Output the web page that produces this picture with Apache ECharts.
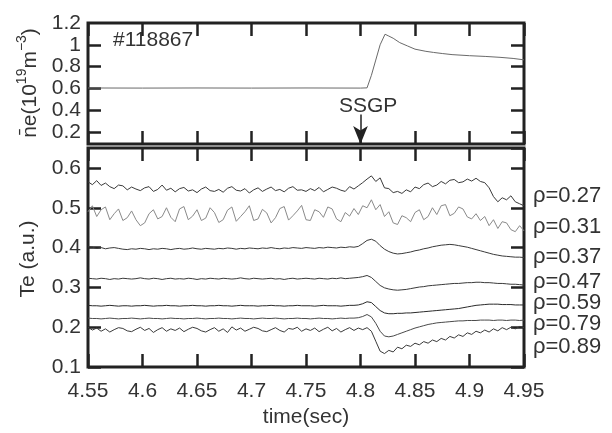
<!DOCTYPE html>
<html><head><meta charset="utf-8">
<script src="https://cdn.jsdelivr.net/npm/echarts@6/dist/echarts.min.js"></script>
<style>html,body{margin:0;padding:0;background:#fff}#c{width:612px;height:433px}</style>
</head><body><div id="c"></div>
<script>
// ---- data ----
const neTime = [4.55,4.6,4.65,4.7,4.75,4.8,4.806,4.81,4.814,4.818,4.8225,4.826,4.83,4.836,4.843,4.85,4.86,4.867,4.875,4.884,4.9,4.915,4.928,4.94,4.95];
const neValues = [0.604,0.603,0.604,0.603,0.604,0.603,0.605,0.72,0.86,1.0,1.097,1.08,1.06,1.02,0.99,0.96,0.94,0.93,0.92,0.91,0.9,0.893,0.885,0.875,0.862];

// Te sampled every 4 ms from 4.55 s to 4.95 s (101 samples)
const teStart = 4.55, teStep = 0.004;
const te027 = [0.565,0.558,0.568,0.556,0.562,0.553,0.548,0.557,0.555,0.545,0.552,
 0.547,0.543,0.55,0.553,0.541,0.546,0.557,0.544,0.549,0.54,
 0.548,0.551,0.542,0.545,0.538,0.547,0.552,0.543,0.541,0.546,
 0.539,0.549,0.553,0.544,0.542,0.548,0.537,0.545,0.55,0.541,
 0.547,0.552,0.543,0.546,0.54,0.549,0.553,0.544,0.545,0.541,
 0.548,0.543,0.551,0.54,0.546,0.552,0.549,0.544,0.541,0.553,
 0.547,0.555,0.563,0.572,0.58,0.566,0.575,0.55,0.548,0.538,
 0.541,0.536,0.545,0.54,0.552,0.548,0.558,0.562,0.553,0.557,
 0.566,0.56,0.569,0.571,0.563,0.565,0.572,0.567,0.574,0.566,
 0.563,0.55,0.528,0.515,0.525,0.52,0.53,0.515,0.51,0.505];
const te031 = [0.49,0.505,0.478,0.495,0.502,0.47,0.485,0.497,0.468,0.475,0.492,
 0.47,0.455,0.462,0.485,0.495,0.472,0.478,0.5,0.476,0.465,
 0.497,0.503,0.47,0.479,0.495,0.468,0.474,0.5,0.488,0.463,
 0.47,0.494,0.502,0.466,0.478,0.49,0.505,0.468,0.472,0.496,
 0.487,0.462,0.475,0.498,0.503,0.469,0.48,0.492,0.506,0.47,
 0.468,0.495,0.49,0.476,0.502,0.497,0.472,0.465,0.488,0.479,
 0.498,0.483,0.505,0.5,0.52,0.495,0.508,0.478,0.49,0.462,
 0.458,0.48,0.475,0.465,0.488,0.495,0.47,0.478,0.5,0.483,
 0.505,0.508,0.48,0.486,0.502,0.497,0.477,0.472,0.485,0.468,
 0.478,0.455,0.47,0.448,0.465,0.462,0.445,0.44,0.455,0.442];
const te037 = [0.402,0.401,0.398,0.4,0.397,0.399,0.4,0.398,0.396,0.395,0.397,
 0.396,0.398,0.397,0.395,0.397,0.396,0.398,0.397,0.395,0.397,
 0.398,0.396,0.397,0.399,0.397,0.396,0.398,0.397,0.396,0.398,
 0.397,0.399,0.398,0.396,0.398,0.397,0.399,0.398,0.397,0.399,
 0.398,0.4,0.398,0.397,0.399,0.398,0.4,0.399,0.398,0.4,
 0.399,0.398,0.4,0.399,0.401,0.4,0.399,0.401,0.4,0.402,
 0.401,0.403,0.41,0.418,0.421,0.416,0.405,0.396,0.39,0.386,
 0.384,0.385,0.387,0.389,0.392,0.394,0.397,0.399,0.402,0.404,
 0.406,0.407,0.408,0.407,0.405,0.403,0.401,0.398,0.395,0.392,
 0.389,0.386,0.383,0.381,0.379,0.378,0.377,0.376,0.376,0.375];
const te047 = [0.323,0.322,0.321,0.323,0.322,0.32,0.322,0.321,0.323,0.322,0.321,
 0.322,0.324,0.322,0.321,0.323,0.322,0.32,0.322,0.323,0.321,
 0.322,0.321,0.323,0.322,0.32,0.322,0.321,0.323,0.322,0.321,
 0.323,0.322,0.321,0.322,0.324,0.322,0.321,0.323,0.322,0.321,
 0.322,0.323,0.321,0.322,0.32,0.322,0.323,0.321,0.322,0.323,
 0.322,0.321,0.323,0.322,0.321,0.323,0.322,0.324,0.322,0.323,
 0.324,0.325,0.327,0.33,0.325,0.315,0.305,0.299,0.296,0.294,
 0.293,0.294,0.295,0.297,0.299,0.301,0.302,0.304,0.305,0.306,
 0.307,0.308,0.309,0.31,0.31,0.311,0.312,0.312,0.313,0.313,
 0.312,0.312,0.311,0.31,0.31,0.309,0.308,0.308,0.307,0.306];
const te059 = [0.255,0.254,0.254,0.253,0.254,0.255,0.254,0.253,0.254,0.254,0.253,
 0.254,0.254,0.255,0.254,0.253,0.254,0.254,0.255,0.254,0.254,
 0.253,0.254,0.254,0.255,0.254,0.254,0.253,0.254,0.254,0.255,
 0.254,0.254,0.253,0.254,0.255,0.254,0.254,0.254,0.253,0.254,
 0.254,0.255,0.254,0.254,0.253,0.254,0.254,0.255,0.254,0.254,
 0.254,0.253,0.254,0.255,0.254,0.254,0.254,0.253,0.254,0.255,
 0.255,0.256,0.259,0.264,0.262,0.252,0.242,0.236,0.234,0.234,
 0.235,0.235,0.236,0.236,0.237,0.238,0.239,0.24,0.241,0.242,
 0.243,0.244,0.245,0.246,0.247,0.249,0.251,0.253,0.255,0.256,
 0.257,0.258,0.258,0.258,0.257,0.257,0.257,0.256,0.256,0.256];
const te079 = [0.223,0.222,0.222,0.221,0.222,0.223,0.222,0.221,0.222,0.222,0.223,
 0.222,0.221,0.222,0.223,0.222,0.222,0.221,0.222,0.223,0.222,
 0.222,0.221,0.222,0.222,0.223,0.222,0.221,0.222,0.222,0.223,
 0.222,0.222,0.221,0.222,0.223,0.222,0.222,0.221,0.222,0.223,
 0.222,0.222,0.223,0.222,0.221,0.222,0.222,0.223,0.222,0.222,
 0.221,0.222,0.223,0.222,0.222,0.221,0.222,0.223,0.222,0.223,
 0.223,0.224,0.227,0.232,0.226,0.21,0.19,0.178,0.176,0.178,
 0.182,0.186,0.19,0.194,0.198,0.201,0.204,0.207,0.209,0.211,
 0.212,0.213,0.214,0.215,0.216,0.216,0.217,0.217,0.217,0.218,
 0.218,0.218,0.217,0.218,0.218,0.217,0.218,0.218,0.217,0.218];
const te089 = [0.2,0.193,0.198,0.19,0.196,0.188,0.194,0.199,0.197,0.191,0.189,
 0.195,0.2,0.192,0.197,0.187,0.194,0.199,0.19,0.196,0.192,
 0.198,0.189,0.195,0.2,0.197,0.191,0.188,0.194,0.199,0.19,
 0.196,0.187,0.201,0.193,0.198,0.19,0.195,0.2,0.197,0.191,
 0.189,0.194,0.199,0.192,0.188,0.197,0.195,0.2,0.19,0.196,
 0.192,0.198,0.189,0.195,0.2,0.191,0.197,0.188,0.194,0.199,
 0.192,0.198,0.194,0.199,0.19,0.165,0.14,0.134,0.142,0.138,
 0.15,0.146,0.155,0.152,0.16,0.156,0.164,0.16,0.168,0.164,
 0.172,0.168,0.177,0.173,0.181,0.177,0.186,0.182,0.19,0.186,
 0.193,0.188,0.196,0.191,0.199,0.194,0.2,0.196,0.202,0.199];

const rhoLabels = ['ρ=0.27','ρ=0.31','ρ=0.37','ρ=0.47','ρ=0.59','ρ=0.79','ρ=0.89'];
const teSeries = [te027, te031, te037, te047, te059, te079, te089];
const topYLabels = [0.2,0.4,0.6,0.8,1,1.2];
const topYTicks = [0.2,0.4,0.6,0.8,1];
const shotLabel = '#118867';
const eventLabel = 'SSGP';
const eventTime = 4.8;

// ---- chart ----
const FONT = "'Liberation Sans', Arial, sans-serif";
const INK = '#222';
const chart = echarts.init(document.getElementById('c'), null, {renderer:'canvas'});

const pairs = arr => arr.map((v,i)=>[+(teStart + teStep*i).toFixed(4), v]);

const tickStyle = {inside:true, length:13, lineStyle:{color:INK, width:2.5}};
const xBase = {type:'value', min:4.55, max:4.95, interval:0.05,
  axisLine:{show:false}, splitLine:{show:false}, axisTick:tickStyle, axisLabel:{show:false}};

const lineColors = ['#3a3a3a','#8a8a8a','#3a3a3a','#3a3a3a','#2a2a2a','#4a4a4a','#3a3a3a'];

const series = [{
  type:'line', xAxisIndex:0, yAxisIndex:0, data: neTime.map((t,i)=>[t, neValues[i]]),
  showSymbol:false, lineStyle:{color:'#6a6a6a', width:1}, silent:true,
  markLine:{silent:true, symbol:['none','arrow'], symbolSize:[11,18], label:{show:false},
    lineStyle:{color:INK, width:1.5, type:'solid'},
    data:[[{coord:[eventTime,0.36]},{coord:[eventTime,0.09]}]]}
}];
teSeries.forEach((arr,k)=>{
  series.push({type:'line', xAxisIndex:2, yAxisIndex:2, data:pairs(arr), showSymbol:false,
    lineStyle:{color:lineColors[k], width:1}, silent:true});
});

const rhoY = [196,227,257,282,303,324,347];

chart.setOption({
  animation:false,
  backgroundColor:'#fff',
  textStyle:{fontFamily:FONT},
  grid:[
    {left:88, top:23, width:436, height:121, show:true, borderColor:INK, borderWidth:3, backgroundColor:'transparent'},
    {left:88, top:148, width:436, height:226, show:true, borderColor:INK, borderWidth:3, backgroundColor:'transparent'}
  ],
  xAxis:[
    Object.assign({}, xBase, {gridIndex:0, position:'bottom'}),
    Object.assign({}, xBase, {gridIndex:0, position:'top'}),
    Object.assign({}, xBase, {gridIndex:1, position:'bottom',
      axisLabel:{show:true, margin:14, fontSize:21, color:'#333', fontFamily:FONT,
        formatter:v=>String(+v.toFixed(2))},
      name:'time(sec)', nameLocation:'middle', nameGap:34,
      nameTextStyle:{fontSize:21, color:'#333', fontFamily:FONT}}),
    Object.assign({}, xBase, {gridIndex:1, position:'top'})
  ],
  yAxis:[
    {type:'value', gridIndex:0, position:'left', min:0.09, max:1.2,
      axisLine:{show:false}, splitLine:{show:false},
      axisTick:Object.assign({customValues:topYTicks}, tickStyle),
      axisLabel:{customValues:topYLabels, margin:7, fontSize:21, color:'#333', fontFamily:FONT,
        formatter:v=>String(+v.toFixed(2))}},
    {type:'value', gridIndex:0, position:'right', min:0.09, max:1.2,
      axisLine:{show:false}, splitLine:{show:false},
      axisTick:Object.assign({customValues:topYTicks}, tickStyle), axisLabel:{show:false}},
    {type:'value', gridIndex:1, position:'left', min:0.1, max:0.65, interval:0.1,
      axisLine:{show:false}, splitLine:{show:false}, axisTick:tickStyle,
      axisLabel:{margin:7, fontSize:21, color:'#333', fontFamily:FONT, showMaxLabel:false,
        formatter:v=>String(+v.toFixed(2))}},
    {type:'value', gridIndex:1, position:'right', min:0.1, max:0.65, interval:0.1,
      axisLine:{show:false}, splitLine:{show:false}, axisTick:tickStyle, axisLabel:{show:false}}
  ],
  series: series,
  graphic:[
    {type:'text', left:113, top:30, style:{text:shotLabel, font:'21px '+FONT, fill:'#333'}},
    {type:'text', left:339, top:96, style:{text:eventLabel, font:'21px '+FONT, fill:'#333'}},
    {type:'text', x:28, y:83, rotation:Math.PI/2, style:{
      text:'{b|n\u0304e(10}{s|19}{b|m}{s|\u22123}{b|)}', align:'center', verticalAlign:'middle',
      rich:{b:{fontSize:21, fontFamily:FONT, fill:'#333', lineHeight:26, verticalAlign:'bottom'},
            s:{fontSize:14, fontFamily:FONT, fill:'#333', lineHeight:26, verticalAlign:'top'}}}},
    {type:'text', x:28, y:259, rotation:Math.PI/2, style:{text:'Te (a.u.)', font:'21px '+FONT,
      fill:'#333', align:'center', verticalAlign:'middle'}}
  ].concat(rhoLabels.map((t,k)=>({type:'text', x:533, y:rhoY[k], style:{text:t, font:'22px '+FONT,
      fill:'#333', align:'left', verticalAlign:'middle'}})))
});
</script></body></html>
